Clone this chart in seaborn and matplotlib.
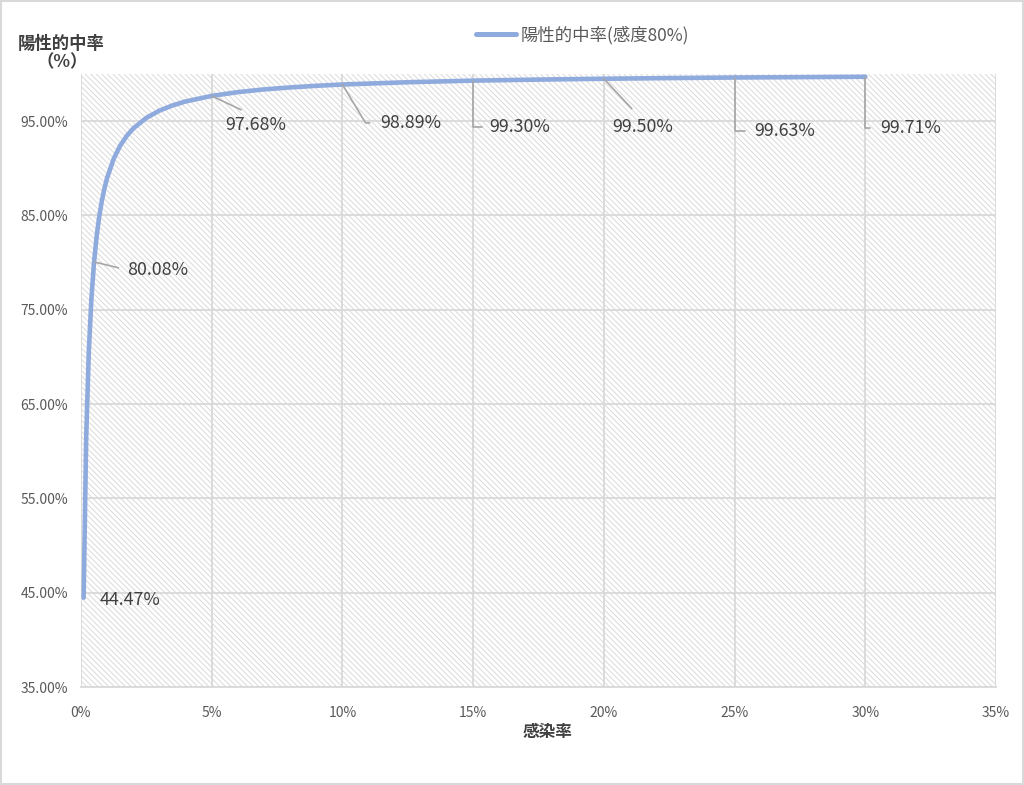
import matplotlib
matplotlib.use("Agg")
import matplotlib.pyplot as plt
import seaborn as sns
import pandas as pd
from matplotlib.ticker import FuncFormatter, MultipleLocator

# data (infection rate %, PPV %)
prevalence = [0.1, 0.2, 0.3, 0.4, 0.5, 0.6, 0.7, 0.8, 0.9, 1.0, 1.25, 1.5, 1.75,
              2.0, 2.5, 3.0, 3.5, 4.0, 5.0, 6.0, 7.0, 8.0, 9.0, 10.0, 12.5, 15.0,
              17.5, 20.0, 22.5, 25.0, 27.5, 30.0]
ppv = [44.47, 61.59, 70.65, 76.26, 80.08, 82.84, 84.94, 86.58, 87.90, 88.99,
       91.01, 92.41, 93.44, 94.23, 95.35, 96.12, 96.67, 97.09, 97.68, 98.08,
       98.37, 98.58, 98.75, 98.89, 99.13, 99.30, 99.41, 99.50, 99.57, 99.63,
       99.67, 99.71]
label_x = [0.1, 0.5, 5.0, 10.0, 15.0, 20.0, 25.0, 30.0]
label_y = [44.47, 80.08, 97.68, 98.89, 99.30, 99.50, 99.63, 99.71]
series_name = "陽性的中率(感度80%)"

sns.set_theme(style="white")
plt.rcParams['font.family'] = ['Noto Sans CJK JP', 'DejaVu Sans']
plt.rcParams['hatch.color'] = '#dadada'
plt.rcParams['hatch.linewidth'] = 0.7

fig = plt.figure(figsize=(10.24, 7.85), dpi=100)
ax = fig.add_axes([0.0791, 0.1248, 0.8936, 0.7809])

ax.patch.set_facecolor('white')
ax.patch.set_hatch('\\\\\\\\\\\\')
ax.patch.set_edgecolor('#dadada')
ax.patch.set_linewidth(0)

df = pd.DataFrame({"x": prevalence, "y": ppv})
sns.lineplot(data=df, x="x", y="y", ax=ax, color="#8FAADC", linewidth=3.3,
             label=series_name, zorder=5)

ax.set_xlim(0, 35)
ax.set_ylim(35, 100)
ax.xaxis.set_major_locator(MultipleLocator(5))
ax.set_yticks([35, 45, 55, 65, 75, 85, 95])
ax.xaxis.set_major_formatter(FuncFormatter(lambda v, p: f"{v:.0f}%"))
ax.yaxis.set_major_formatter(FuncFormatter(lambda v, p: f"{v:.2f}%"))
ax.grid(True, color="#d9d9d9", linewidth=1.3, zorder=1)
ax.set_axisbelow(True)
for s in ['top', 'right', 'left']:
    ax.spines[s].set_visible(False)
ax.spines['bottom'].set_color('#d9d9d9')
ax.spines['bottom'].set_linewidth(1.3)
ax.tick_params(axis='both', length=0, labelsize=10, labelcolor='#595959')
ax.tick_params(axis='x', pad=13.5)
ax.tick_params(axis='y', pad=9.5)

ax.set_xlabel("感染率", fontsize=12, fontweight='bold', color='#404040')
ax.xaxis.set_label_coords(0.510, -0.0734)
ax.xaxis.label.set_va('center')
ax.set_ylabel("")
fig.text(0.017, 0.944, "陽性的中率", fontsize=12.5, fontweight='bold', color='#404040',
         ha='left', va='center')
fig.text(0.036, 0.921, "（%）", fontsize=12.5, fontweight='bold', color='#404040',
         ha='left', va='center')

leg = ax.legend(loc='center', bbox_to_anchor=(0.548, 1.064), frameon=False,
                fontsize=12.5, handlelength=2.3, handletextpad=0.3)
for t in leg.get_texts():
    t.set_color('#595959')
for h in leg.get_lines():
    h.set_linewidth(3.6)

# data labels: text offset (points), leader style, anchor on text, gap
offsets = [(11.5, -2), (23.8, -5.8), (9.6, -21), (27, -27.7),
           (11.5, -33.5), (5.8, -34.8), (14, -38.5), (10.5, -36.7)]
styles = [None, 'straight', 'straight', 'bend', 'angle', 'straight', 'angle', 'angle']
relposes = [(0, 0.5), (0, 0.5), (0.48, 1.0), (0, 0.5), (0, 0.5), (0.47, 1.0), (0, 0.5), (0, 0.5)]
gaps = [0, 4, 5, 5, 3, 6, 4, 5]
for lx, ly, off, st, rp, g in zip(label_x, label_y, offsets, styles, relposes, gaps):
    txt = f"{ly:.2f}%"
    kw = dict(xy=(lx, ly), xytext=off, textcoords='offset points', fontsize=12.8,
              color='#404040', ha='left', va='center', zorder=6)
    if st is None:
        ax.annotate(txt, **kw)
        continue
    ap = dict(arrowstyle='-', color='#a6a6a6', lw=1.2, shrinkA=g, shrinkB=0, relpos=rp)
    if st == 'bend':
        ap['connectionstyle'] = 'angle,angleA=0,angleB=121,rad=0'
    elif st == 'angle':
        ap['connectionstyle'] = 'angle,angleA=0,angleB=90,rad=0'
    ax.annotate(txt, arrowprops=ap, **kw)

fig.patches.append(plt.Rectangle((0.001, 0.001), 0.998, 0.998, transform=fig.transFigure,
                                 fill=False, edgecolor='#d9d9d9', linewidth=1.5))
fig.savefig("out.png", dpi=100)
